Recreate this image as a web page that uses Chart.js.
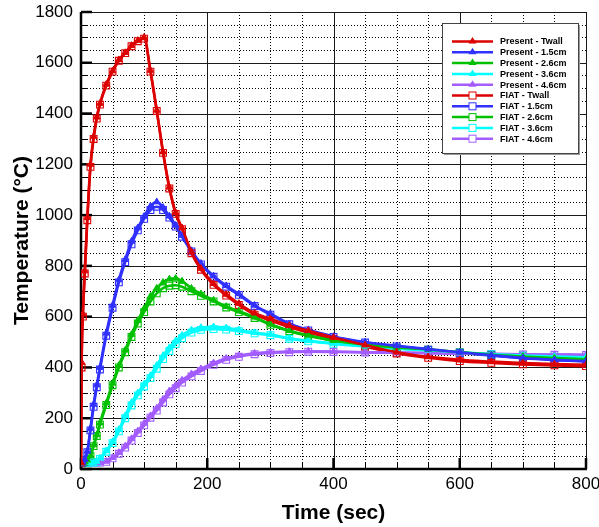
<!DOCTYPE html>
<html>
<head>
<meta charset="utf-8">
<script src="https://cdn.jsdelivr.net/npm/chart.js@4.4.0/dist/chart.umd.min.js"></script>
<style>
  html, body { margin: 0; padding: 0; background: #fff; }
  canvas { display: block; }
</style>
</head>
<body>
<canvas id="tempChart" width="599" height="527"></canvas>
<script>
// time (sec) shared by every series
const times = [0, 1, 3, 6, 10, 15, 20, 25, 30, 40, 50, 60, 70, 80, 90, 100, 110, 120, 130, 140,
  150, 160, 175, 190, 210, 230, 250, 275, 300, 330, 360, 400, 450, 500, 550, 600, 650, 700, 750, 800];

// temperatures (°C)
const presentTwall = [25, 420, 610, 780, 990, 1200, 1310, 1386, 1440, 1515, 1568, 1612, 1640, 1668, 1688, 1700, 1570, 1413, 1249, 1110,
  1010, 950, 855, 790, 730, 688, 652, 614, 592, 565, 545, 518, 488, 460, 442, 430, 423, 417, 413, 410];
const present15 = [25, 25, 28, 38, 70, 160, 255, 331, 400, 535, 645, 745, 825, 897, 950, 995, 1035, 1052, 1030, 996,
  960, 920, 860, 810, 760, 722, 690, 645, 612, 572, 548, 522, 500, 485, 472, 460, 448, 437, 430, 425];
const present26 = [25, 25, 25, 28, 35, 52, 95, 135, 181, 260, 338, 408, 468, 530, 585, 632, 680, 712, 735, 748,
  751, 740, 712, 690, 665, 640, 622, 598, 570, 545, 527, 506, 490, 479, 471, 460, 450, 443, 437, 432];
const present36 = [25, 25, 25, 25, 25, 25, 26, 30, 43, 72, 108, 155, 210, 262, 300, 335, 368, 408, 447, 478,
  505, 527, 548, 557, 560, 556, 548, 537, 530, 515, 505, 495, 484, 475, 468, 460, 453, 447, 443, 440];
const present46 = [25, 25, 25, 25, 25, 25, 25, 25, 25, 30, 45, 65, 90, 120, 150, 180, 210, 240, 275, 308,
  330, 350, 375, 395, 418, 436, 447, 456, 460, 463, 464, 463, 460, 459, 457, 455, 454, 452, 451, 450];

const fiatTwall = [25, 400, 600, 770, 980, 1190, 1300, 1380, 1435, 1510, 1565, 1608, 1638, 1665, 1685, 1695, 1565, 1410, 1245, 1105,
  1005, 945, 850, 785, 725, 683, 646, 608, 585, 558, 538, 512, 482, 455, 438, 425, 418, 412, 408, 405];
const fiat15 = [25, 25, 27, 36, 66, 152, 245, 322, 392, 525, 635, 735, 815, 885, 940, 985, 1020, 1033, 1020, 990,
  955, 915, 857, 806, 757, 718, 686, 642, 608, 570, 546, 520, 498, 483, 470, 458, 447, 436, 429, 424];
const fiat26 = [25, 25, 25, 27, 33, 50, 90, 130, 175, 252, 330, 400, 460, 520, 573, 618, 660, 692, 712, 722,
  724, 718, 700, 682, 660, 636, 618, 595, 568, 543, 525, 505, 489, 478, 470, 459, 449, 442, 436, 431];
const fiat36 = [25, 25, 25, 25, 25, 25, 25, 28, 40, 68, 102, 148, 200, 250, 290, 325, 358, 395, 433, 465,
  492, 515, 537, 548, 551, 549, 543, 534, 527, 513, 503, 493, 483, 474, 467, 459, 452, 446, 442, 439];
const fiat46 = [25, 25, 25, 25, 25, 25, 25, 25, 25, 28, 42, 60, 84, 112, 142, 172, 202, 230, 262, 294,
  318, 340, 365, 386, 410, 430, 442, 452, 457, 460, 462, 461, 459, 458, 456, 454, 453, 451, 450, 449];

const depthLabels = ["Twall", "1.5cm", "2.6cm", "3.6cm", "4.6cm"];
const colors = ["#dd0000", "#3030ff", "#00c000", "#00ffff", "#a35cff"];
const xTicks = [0, 200, 400, 600, 800];
const yTicks = [0, 200, 400, 600, 800, 1000, 1200, 1400, 1600, 1800];

const FONT = "Arial, 'Liberation Sans', Helvetica, sans-serif";

function toPoints(vals) {
  return times.map((t, i) => ({ x: t, y: vals[i] }));
}

function makeSet(label, vals, color, present) {
  return {
    label: label,
    data: toPoints(vals),
    borderColor: color,
    backgroundColor: present ? color : "transparent",
    borderWidth: 2.6,
    pointStyle: present ? "triangle" : "rect",
    pointRadius: present ? 3.8 : 4.8,
    pointBorderWidth: present ? 1 : 1.1,
    pointBorderColor: color,
    pointBackgroundColor: present ? color : "transparent",
    cubicInterpolationMode: "monotone",
    fill: false
  };
}

const presentSeries = [presentTwall, present15, present26, present36, present46];
const fiatSeries = [fiatTwall, fiat15, fiat26, fiat36, fiat46];

const datasets = [];
presentSeries.forEach((s, i) => datasets.push(makeSet("Present - " + depthLabels[i], s, colors[i], true)));
fiatSeries.forEach((s, i) => datasets.push(makeSet("FIAT - " + depthLabels[i], s, colors[i], false)));

// tecplot-like grid: solid majors, dotted minors, inward ticks
const gridPlugin = {
  id: "tecGrid",
  beforeDatasetsDraw(chart) {
    const { ctx, chartArea: a, scales: { x, y } } = chart;
    const line = (x1, y1, x2, y2) => { ctx.beginPath(); ctx.moveTo(x1, y1); ctx.lineTo(x2, y2); ctx.stroke(); };
    ctx.save();

    ctx.lineWidth = 1;
    ctx.strokeStyle = "#000";
    ctx.setLineDash([1, 2]);
    for (let v = 50; v < 800; v += 50) {
      if (v % 200 === 0) continue;
      const px = Math.round(x.getPixelForValue(v)) + 0.5;
      line(px, a.top, px, a.bottom);
    }
    for (let v = 50; v < 1800; v += 50) {
      if (v % 200 === 0) continue;
      const py = Math.round(y.getPixelForValue(v)) + 0.5;
      line(a.left, py, a.right, py);
    }
    ctx.setLineDash([]);

    ctx.strokeStyle = "#1a1a1a";
    xTicks.forEach(v => {
      const px = Math.round(x.getPixelForValue(v)) + 0.5;
      line(px, a.top, px, a.bottom);
    });
    yTicks.forEach(v => {
      const py = Math.round(y.getPixelForValue(v)) + 0.5;
      line(a.left, py, a.right, py);
    });

    // minor ticks
    ctx.strokeStyle = "#000";
    ctx.lineWidth = 1;
    for (let v = 50; v < 800; v += 50) {
      if (v % 200 === 0) continue;
      const px = Math.round(x.getPixelForValue(v)) + 0.5;
      line(px, a.bottom, px, a.bottom - 6);
    }
    for (let v = 50; v < 1800; v += 50) {
      if (v % 200 === 0) continue;
      const py = Math.round(y.getPixelForValue(v)) + 0.5;
      line(a.left, py, a.left + 6, py);
    }
    // major ticks
    ctx.lineWidth = 2.5;
    xTicks.forEach(v => {
      const px = x.getPixelForValue(v);
      line(px, a.bottom, px, a.bottom - 11);
    });
    yTicks.forEach(v => {
      const py = y.getPixelForValue(v);
      line(a.left, py, a.left + 11, py);
    });

    // axes
    ctx.lineWidth = 2.5;
    line(a.left, a.top, a.left, a.bottom + 1);
    line(a.left - 1, a.bottom, a.right + 1, a.bottom);
    ctx.restore();
  }
};

// legend box inside the plot, top-right
const boxLegend = {
  id: "boxLegend",
  afterDraw(chart) {
    const { ctx, chartArea: a } = chart;
    const bw = 136, bh = 130;
    const bx = a.right - 8 - bw, by = a.top + 11;
    ctx.save();
    ctx.fillStyle = "#9a9a9a";
    ctx.fillRect(bx + 2, by + 2, bw, bh);
    ctx.fillStyle = "#fff";
    ctx.fillRect(bx, by, bw, bh);
    ctx.strokeStyle = "#444";
    ctx.lineWidth = 1;
    ctx.strokeRect(bx + 0.5, by + 0.5, bw, bh);

    ctx.font = "bold 9px " + FONT;
    ctx.textBaseline = "middle";
    ctx.textAlign = "left";
    chart.data.datasets.forEach((ds, i) => {
      const ry = by + 18.5 + i * 10.8;
      const lx0 = bx + 10, lx1 = bx + 51, mx = (lx0 + lx1) / 2;
      ctx.strokeStyle = ds.borderColor;
      ctx.lineWidth = 2.5;
      ctx.beginPath(); ctx.moveTo(lx0, ry); ctx.lineTo(lx1, ry); ctx.stroke();
      if (ds.pointStyle === "triangle") {
        ctx.fillStyle = ds.borderColor;
        ctx.beginPath();
        ctx.moveTo(mx, ry - 4.5); ctx.lineTo(mx + 4, ry + 2); ctx.lineTo(mx - 4, ry + 2);
        ctx.closePath(); ctx.fill();
      } else {
        ctx.lineWidth = 1;
        ctx.fillStyle = "#fff";
        ctx.fillRect(mx - 3.5, ry - 3.5, 7, 7);
        ctx.strokeRect(mx - 3.5, ry - 3.5, 7, 7);
      }
      ctx.fillStyle = "#000";
      ctx.fillText(ds.label, bx + 58, ry + 0.5);
    });
    ctx.restore();
  }
};

const ctx = document.getElementById("tempChart").getContext("2d");

new Chart(ctx, {
  type: "line",
  data: { datasets: datasets },
  plugins: [gridPlugin, boxLegend],
  options: {
    responsive: false,
    animation: false,
    devicePixelRatio: 1,
    layout: { padding: { left: 0, top: 12, right: 13, bottom: 0 } },
    plugins: {
      legend: { display: false },
      tooltip: { enabled: false }
    },
    scales: {
      x: {
        type: "linear",
        min: 0,
        max: 800,
        afterBuildTicks: s => { s.ticks = xTicks.map(v => ({ value: v })); },
        afterFit: s => { s.height = 58; s.paddingLeft = 0; s.paddingRight = 0; },
        ticks: {
          color: "#000", padding: 5, maxRotation: 0,
          font: { family: FONT, size: 17 },
          callback: v => String(v)
        },
        grid: { display: false, drawTicks: false },
        border: { display: false },
        title: {
          display: true,
          text: "Time (sec)",
          color: "#000",
          font: { family: FONT, size: 21, weight: "bold" },
          padding: { top: 0, bottom: 1 }
        }
      },
      y: {
        min: 0,
        max: 1800,
        afterBuildTicks: s => { s.ticks = yTicks.map(v => ({ value: v })); },
        afterFit: s => { s.width = 81; s.paddingTop = 0; s.paddingBottom = 0; },
        ticks: {
          color: "#000", padding: 8,
          font: { family: FONT, size: 17 },
          callback: v => String(v)
        },
        grid: { display: false, drawTicks: false },
        border: { display: false },
        title: {
          display: true,
          text: "Temperature (°C)",
          color: "#000",
          font: { family: FONT, size: 21, weight: "bold" },
          padding: { top: 10, bottom: 0 }
        }
      }
    }
  }
});
</script>
</body>
</html>
